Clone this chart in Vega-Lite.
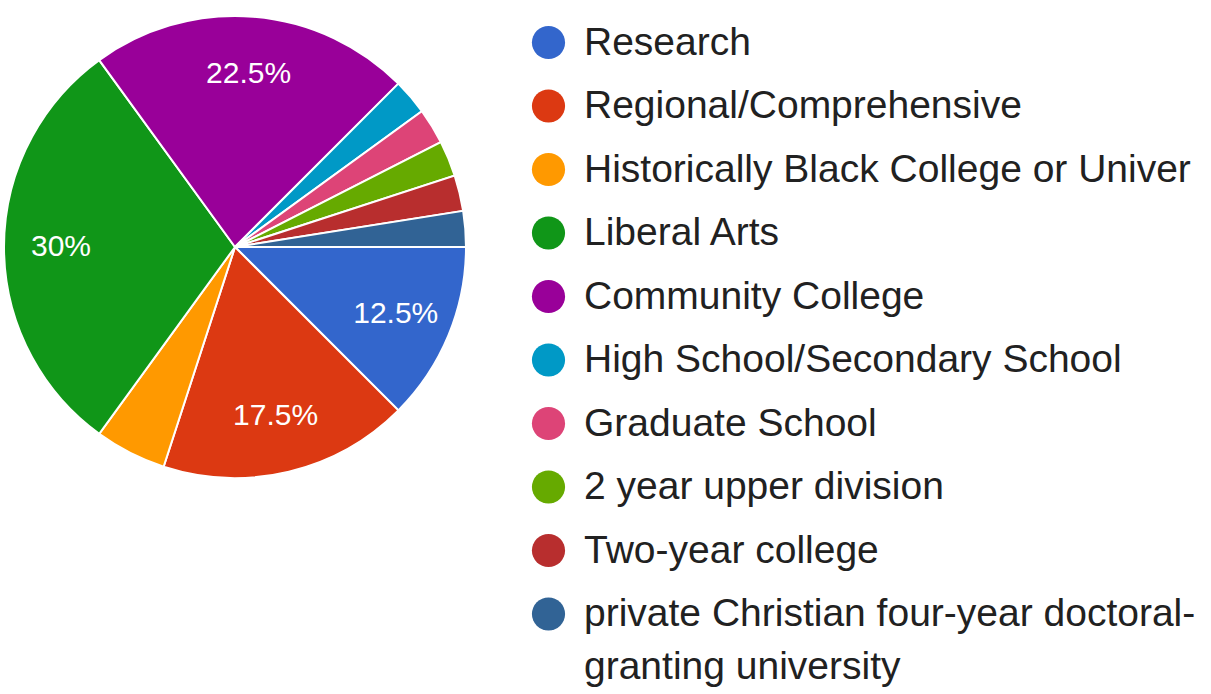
{
  "$schema": "https://vega.github.io/schema/vega-lite/v6.json",
  "width": 468,
  "height": 494,
  "padding": 0,
  "autosize": {"type": "pad"},
  "background": "white",
  "config": {"view": {"stroke": null}, "font": "Liberation Sans", "style": {"guide-label": {"lineHeight": 53}}},
  "data": {
    "values": [
      {"category": "Research", "share": 0.125, "rank": 1},
      {"category": "Regional/Comprehensive", "share": 0.175, "rank": 2},
      {"category": "Historically Black College or University", "share": 0.05, "rank": 3},
      {"category": "Liberal Arts", "share": 0.3, "rank": 4},
      {"category": "Community College", "share": 0.225, "rank": 5},
      {"category": "High School/Secondary School", "share": 0.025, "rank": 6},
      {"category": "Graduate School", "share": 0.025, "rank": 7},
      {"category": "2 year upper division", "share": 0.025, "rank": 8},
      {"category": "Two-year college", "share": 0.025, "rank": 9},
      {"category": "private Christian four-year doctoral-granting university", "share": 0.025, "rank": 10}
    ]
  },
  "encoding": {
    "theta": {"field": "share", "type": "quantitative", "stack": true, "scale": {"range": [1.5707963, 7.8539816]}},
    "order": {"field": "rank", "type": "quantitative"}
  },
  "layer": [
    {
      "mark": {"type": "arc", "outerRadius": 231, "stroke": "white", "strokeWidth": 2},
      "encoding": {
        "color": {
          "field": "category",
          "type": "nominal",
          "sort": null,
          "scale": {
            "domain": ["Research", "Regional/Comprehensive", "Historically Black College or University", "Liberal Arts", "Community College", "High School/Secondary School", "Graduate School", "2 year upper division", "Two-year college", "private Christian four-year doctoral-granting university"],
            "range": ["#3366cc", "#dc3912", "#ff9900", "#109618", "#990099", "#0099c6", "#dd4477", "#66aa00", "#b82e2e", "#316395"]
          },
          "legend": {
            "orient": "none",
            "legendX": 528,
            "legendY": 23,
            "title": null,
            "symbolType": "circle",
            "symbolSize": 1100,
            "symbolStrokeWidth": 0,
            "symbolOpacity": 1,
            "labelFontSize": 39,
            "labelFont": "Liberation Sans",
            "labelColor": "#212121",
            "labelLimit": 700,
            "labelOffset": 16,
            "rowPadding": 23.5,
            "padding": 0,
            "labelExpr": "datum.label == 'private Christian four-year doctoral-granting university' ? ['private Christian four-year doctoral-', 'granting university'] : datum.label == 'Historically Black College or University' ? 'Historically Black College or Univer' : datum.label"
          }
        }
      }
    },
    {
      "mark": {"type": "text", "radius": 174, "fontSize": 30, "font": "Liberation Sans", "align": "center", "baseline": "middle"},
      "encoding": {
        "text": {"field": "share", "type": "quantitative", "format": ".1~%"},
        "detail": {"field": "category", "type": "nominal"},
        "color": {"value": "white"},
        "opacity": {"condition": {"test": "datum.share < 0.1", "value": 0}, "value": 1}
      }
    }
  ]
}
